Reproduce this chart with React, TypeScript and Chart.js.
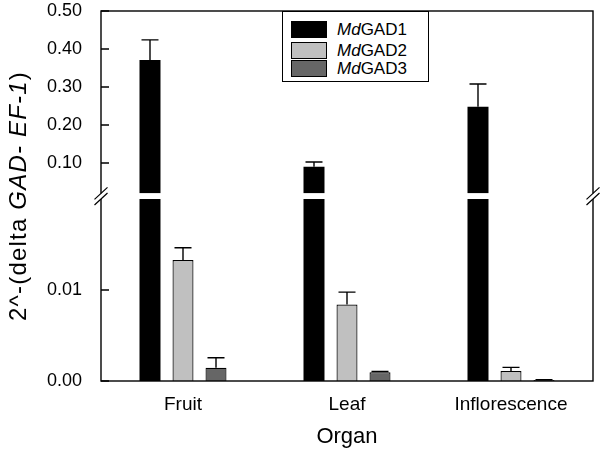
import React, { useEffect, useRef } from 'react';
import { Chart, registerables } from 'chart.js';

Chart.register(...registerables);

const categories = ['Fruit', 'Leaf', 'Inflorescence'];
const seriesPrefix = 'Md';
const seriesNames = ['GAD1', 'GAD2', 'GAD3'];
const gad1Values = [0.371, 0.09, 0.248];
const gad1Errors = [0.053, 0.0126, 0.06];
const gad2Values = [0.0133, 0.0084, 0.0011];
const gad2Errors = [0.00135, 0.00137, 0.0004];
const gad3Values = [0.00146, 0.00095, 0.0001];
const gad3Errors = [0.0011, 0.0001, 0.00003];
const breakValue = 0.02;
const upperMax = 0.5;
const upperTicks = [0.1, 0.2, 0.3, 0.4, 0.5];
const lowerTicks = [0, 0.01];
const seriesColors = ['#000000', '#c0c0c0', '#666666'];
const xTitle = 'Organ';

const FONT = "'Liberation Sans', Arial, Helvetica, sans-serif";

const allValues = [gad1Values, gad2Values, gad3Values];
const allErrors = [gad1Errors, gad2Errors, gad3Errors];

const overlayPlugin = {
  id: 'overlay',
  afterDatasetsDraw(chart: any) {
    const ctx = chart.ctx;
    const { left, right, top, bottom } = chart.chartArea;
    const yLow = chart.scales.yLow;
    const yHigh = chart.scales.yHigh;
    ctx.save();
    ctx.strokeStyle = '#000';
    ctx.lineWidth = 1.4;
    // error bars
    allValues.forEach((vals, i) => {
      const meta = chart.getDatasetMeta(i * 2);
      vals.forEach((v, j) => {
        const el = meta.data[j];
        if (!el) return;
        const x = el.x;
        const sc = v > breakValue ? yHigh : yLow;
        const y0 = sc.getPixelForValue(v);
        const y1 = sc.getPixelForValue(v + allErrors[i][j]);
        ctx.beginPath();
        ctx.moveTo(x, y0);
        ctx.lineTo(x, y1);
        ctx.moveTo(x - 8.5, y1);
        ctx.lineTo(x + 8.5, y1);
        ctx.stroke();
      });
    });
    // frame
    ctx.lineWidth = 1.4;
    ctx.strokeRect(left, top, right - left, bottom - top);
    // inward ticks
    ctx.beginPath();
    upperTicks.forEach((t) => {
      const y = yHigh.getPixelForValue(t);
      ctx.moveTo(left, y);
      ctx.lineTo(left + 8, y);
    });
    lowerTicks.forEach((t) => {
      const y = yLow.getPixelForValue(t);
      ctx.moveTo(left, y);
      ctx.lineTo(left + 8, y);
    });
    ctx.stroke();
    // break
    const gTop = yHigh.bottom;
    const gBot = yLow.top;
    ctx.fillStyle = '#fff';
    ctx.fillRect(left - 8, gTop, right - left + 16, gBot - gTop);
    ctx.lineWidth = 1.2;
    ctx.beginPath();
    [left, right].forEach((x) => {
      [gTop, gBot].forEach((y) => {
        ctx.moveTo(x - 6.5, y + 6);
        ctx.lineTo(x + 6.5, y - 6);
      });
    });
    ctx.stroke();
    ctx.restore();
  },
};

export default function App() {
  const canvasRef = useRef<HTMLCanvasElement | null>(null);

  useEffect(() => {
    const canvas = canvasRef.current;
    if (!canvas) return;
    const datasets: any[] = [];
    allValues.forEach((vals, i) => {
      const common = {
        label: seriesPrefix + seriesNames[i],
        backgroundColor: seriesColors[i],
        borderColor: '#000',
        borderWidth: i === 0 ? 0 : 1.2,
        stack: 's' + i,
        categoryPercentage: 0.6037,
        barPercentage: 0.636,
      };
      datasets.push({
        ...common,
        yAxisID: 'yLow',
        data: vals.map((v) => Math.min(v, breakValue)),
      });
      datasets.push({
        ...common,
        yAxisID: 'yHigh',
        data: vals.map((v) => (v > breakValue ? [breakValue, v] : null)),
      });
    });

    const yTickFont = { family: FONT, size: 18 };
    const fitY = (s: any) => {
      s.width = 101;
      s.paddingTop = 0;
      s.paddingBottom = 0;
    };
    const chart = new Chart(canvas, {
      type: 'bar',
      data: { labels: categories, datasets },
      options: {
        animation: false,
        responsive: true,
        maintainAspectRatio: false,
        layout: { padding: { top: 11, right: 7, left: 0, bottom: 0 } },
        plugins: { legend: { display: false }, tooltip: { enabled: false } },
        scales: {
          x: {
            type: 'category',
            stacked: true,
            offset: true,
            grid: { display: false },
            border: { display: false },
            ticks: { color: '#000', font: { family: FONT, size: 19 }, padding: 4 },
            title: {
              display: true,
              text: xTitle,
              color: '#000',
              font: { family: FONT, size: 22 },
              padding: { top: 0, bottom: 1 },
            },
            afterFit: (s: any) => {
              s.height = 70;
              s.paddingLeft = 0;
              s.paddingRight = 0;
            },
          },
          yLow: {
            type: 'linear',
            position: 'left',
            stack: 'y',
            stackWeight: 182,
            stacked: false,
            min: 0,
            max: breakValue,
            grid: { display: false },
            border: { display: false },
            ticks: {
              color: '#000',
              font: yTickFont,
              padding: 11,
              callback: (v: any) => Number(v).toFixed(2),
            },
            afterBuildTicks: (s: any) => {
              s.ticks = lowerTicks.map((v) => ({ value: v }));
            },
            afterFit: fitY,
          },
          yGap: {
            type: 'linear',
            position: 'left',
            stack: 'y',
            stackWeight: 5.6,
            min: 0,
            max: 1,
            display: false,
          },
          yHigh: {
            type: 'linear',
            position: 'left',
            stack: 'y',
            stackWeight: 182.4,
            stacked: false,
            min: breakValue,
            max: upperMax,
            grid: { display: false },
            border: { display: false },
            ticks: {
              color: '#000',
              font: yTickFont,
              padding: 11,
              callback: (v: any) => Number(v).toFixed(2),
            },
            afterBuildTicks: (s: any) => {
              s.ticks = upperTicks.map((v) => ({ value: v }));
            },
            afterFit: fitY,
          },
        },
      } as any,
      plugins: [overlayPlugin],
    });
    return () => chart.destroy();
  }, []);

  return (
    <div
      style={{
        position: 'fixed',
        left: 0,
        top: 0,
        width: 600,
        height: 451,
        background: '#fff',
        fontFamily: FONT,
      }}
    >
      <canvas ref={canvasRef} />
      <div
        style={{
          position: 'absolute',
          left: 17.5,
          top: 196,
          transform: 'translate(-50%, -50%) rotate(-90deg)',
          whiteSpace: 'nowrap',
          fontSize: 24,
          letterSpacing: 1.2,
          color: '#000',
          lineHeight: 1,
        }}
      >
        2^-(delta <i>GAD- EF-1</i>)
      </div>
      <div
        style={{
          position: 'absolute',
          left: 282,
          top: 11,
          width: 147,
          height: 71,
          boxSizing: 'border-box',
          border: '1px solid #000',
          background: '#fff',
        }}
      >
        {seriesNames.map((name, i) => {
          const tops = [9, 30, 48];
          return (
            <div key={name} style={{ position: 'absolute', left: 0, top: tops[i], height: 17, width: '100%' }}>
              <div
                style={{
                  position: 'absolute',
                  left: 8,
                  top: 0,
                  width: 36,
                  height: 17,
                  boxSizing: 'border-box',
                  background: seriesColors[i],
                  border: '1.5px solid #000',
                }}
              />
              <div
                style={{
                  position: 'absolute',
                  left: 54,
                  top: 0,
                  height: 17,
                  lineHeight: '17px',
                  fontSize: 17,
                  color: '#000',
                  whiteSpace: 'nowrap',
                }}
              >
                <i>{seriesPrefix}</i>
                {name}
              </div>
            </div>
          );
        })}
      </div>
    </div>
  );
}
